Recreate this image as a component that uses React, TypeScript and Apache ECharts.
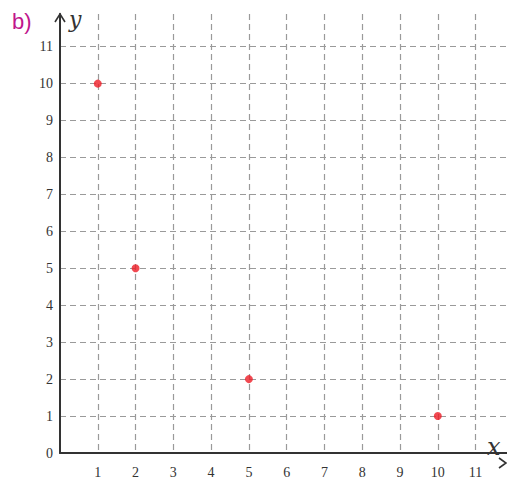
import React, { useEffect, useRef } from "react";
import * as echarts from "echarts";

const xValues = [1, 2, 5, 10];
const yValues = [10, 5, 2, 1];
const tickLabels = ["0", "1", "2", "3", "4", "5", "6", "7", "8", "9", "10", "11"];

const W = 507;
const H = 479;
const LEFT = 60;
const TOP = 14;
const BOTTOM = 16;
const RIGHT = 0;

export default function App() {
  const ref = useRef<HTMLDivElement>(null);
  useEffect(() => {
    document.body.style.margin = "0";
    const chart = echarts.init(ref.current!, null, { renderer: "svg" });
    const unit = 37.78;
    const xMax = (W - LEFT - RIGHT) / unit;
    const yMax = (H - TOP - BOTTOM) / unit;
    const labelFont = "'Liberation Serif', 'DejaVu Serif', serif";
    const axisY = H - BOTTOM;
    const fmt = (v: number) => (Number.isInteger(v) && v <= 11 ? tickLabels[v] : "");
    const grid = { color: "#9a9a9a", width: 1.2, type: [6, 4] };
    chart.setOption({
      animation: false,
      grid: { left: LEFT, right: RIGHT, top: TOP, bottom: BOTTOM, containLabel: false },
      xAxis: {
        type: "value",
        min: 0,
        max: xMax,
        interval: 1,
        axisLine: { show: true, lineStyle: { color: "#333", width: 2 } },
        axisTick: { show: false },
        axisLabel: {
          formatter: (v: number) => (v === 0 ? "" : fmt(v)),
          showMaxLabel: false,
          margin: 12,
          fontFamily: labelFont,
          fontSize: 14,
          color: "#333",
        },
        splitLine: { show: true, showMinLine: false, showMaxLine: false, lineStyle: grid },
      },
      yAxis: {
        type: "value",
        min: 0,
        max: yMax,
        interval: 1,
        axisLine: { show: true, lineStyle: { color: "#333", width: 2 } },
        axisTick: { show: false },
        axisLabel: {
          formatter: fmt,
          showMaxLabel: false,
          margin: 7,
          fontFamily: labelFont,
          fontSize: 14,
          color: "#333",
        },
        splitLine: { show: true, showMinLine: false, showMaxLine: false, lineStyle: grid },
      },
      graphic: [
        {
          type: "polyline",
          shape: { points: [[W - 8, axisY - 5], [W - 1, axisY], [W - 8, axisY + 5]] },
          style: { stroke: "#333", lineWidth: 1.6, fill: "none" },
        },
        {
          type: "polyline",
          shape: { points: [[LEFT - 5, TOP + 8], [LEFT, TOP], [LEFT + 5, TOP + 8]] },
          style: { stroke: "#333", lineWidth: 1.6, fill: "none" },
        },
        {
          type: "text",
          x: 487,
          y: 435,
          style: {
            text: "x",
            font: "italic 24px 'DejaVu Serif', serif",
            fill: "#333",
          },
        },
        {
          type: "text",
          x: 69,
          y: 8,
          style: {
            text: "y",
            font: "italic 22px 'DejaVu Serif', serif",
            fill: "#333",
          },
        },
        {
          type: "text",
          x: 12,
          y: 10,
          style: {
            text: "b)",
            font: "22px 'Liberation Sans', sans-serif",
            fill: "#c0168c",
          },
        },
      ],
      series: [
        {
          type: "scatter",
          data: xValues.map((x, i) => [x, yValues[i]]),
          symbol: "circle",
          symbolSize: 8,
          itemStyle: { color: "#ee1c25" },
          z: 5,
        },
      ],
    });
    return () => chart.dispose();
  }, []);
  return <div ref={ref} style={{ width: W, height: H }} />;
}
